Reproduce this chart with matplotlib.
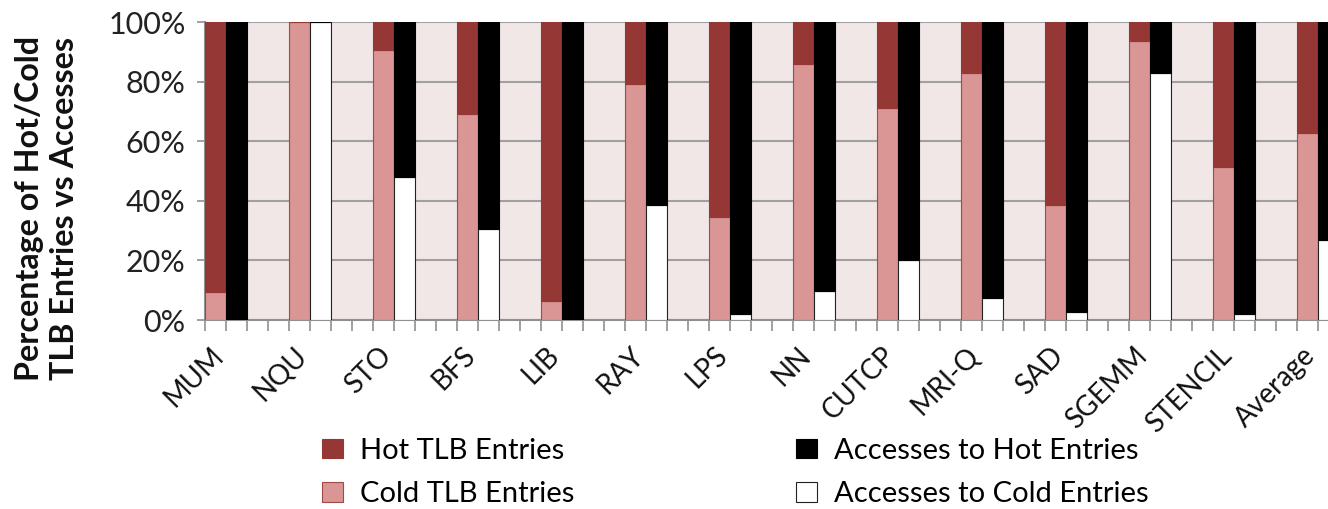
import numpy as np
import matplotlib
matplotlib.use("Agg")
import matplotlib.pyplot as plt
import matplotlib.transforms as mtransforms
from matplotlib.ticker import PercentFormatter

# data (percent)
benchmarks = ["MUM", "NQU", "STO", "BFS", "LIB", "RAY", "LPS", "NN",
              "CUTCP", "MRI-Q", "SAD", "SGEMM", "STENCIL", "Average"]
cold_entries = [9.3, 100, 90.7, 69.0, 6.4, 79.3, 34.4, 85.8, 71.0, 82.8, 38.5, 93.6, 51.2, 62.6]
cold_accesses = [0, 100, 48.0, 30.7, 0, 38.5, 2.0, 9.8, 20.1, 7.5, 2.6, 82.8, 2.0, 26.8]

hot_entries = [100 - v for v in cold_entries]
hot_accesses = [100 - v for v in cold_accesses]

plt.rcParams['font.family'] = ['Lato', 'DejaVu Sans']

fig = plt.figure(figsize=(13.28, 5.09), dpi=100)
ax = fig.add_axes([205 / 1328, 1 - 320 / 509, 1 - 205 / 1328, (320 - 22) / 509])
ax.set_facecolor("#F2E7E7")

n = len(benchmarks)
x1 = np.arange(n) * 4 + 0.5
x2 = x1 + 1

ax.bar(x1, cold_entries, width=1, color="#D99694", edgecolor="#A04A48", linewidth=0.8,
       label="Cold TLB Entries", zorder=3)
ax.bar(x1, hot_entries, width=1, bottom=cold_entries, color="#953735", edgecolor="#953735",
       linewidth=0.8, label="Hot TLB Entries", zorder=3)
ax.bar(x2, cold_accesses, width=1, color="white", edgecolor="#222222", linewidth=0.8,
       label="Accesses to Cold Entries", zorder=3)
ax.bar(x2, hot_accesses, width=1, bottom=cold_accesses, color="black", edgecolor="black",
       linewidth=0.8, label="Accesses to Hot Entries", zorder=3)

ax.set_xlim(0, 1123 / 21)
ax.set_ylim(0, 100)
ax.yaxis.set_major_locator(plt.MultipleLocator(20))
ax.yaxis.set_major_formatter(PercentFormatter(decimals=0))
ax.grid(axis="y", color="#A0A0A0", linewidth=1.5, zorder=0)

# slot tick marks along the bottom
ax.set_xticks(np.arange(0, 54))
ax.set_xticklabels([])
ax.tick_params(axis="x", which="major", length=8, width=1.2, color="#909090")
ax.tick_params(axis="y", length=6, width=1.2, color="#909090", labelsize=22,
               pad=8, labelcolor="#222222")

# category names sit between the two bars of each pair
trans = mtransforms.blended_transform_factory(ax.transData, ax.transAxes)
offset = mtransforms.ScaledTranslation(-16 / 100, -22 / 100, fig.dpi_scale_trans)
for xc, name in zip(x1 + 0.5, benchmarks):
    ax.text(xc, 0, name, transform=trans + offset, rotation=45, ha="right", va="top",
            rotation_mode="anchor", fontsize=20, color="#111111")

for side in ["top", "right"]:
    ax.spines[side].set_visible(False)
for side in ["left", "bottom"]:
    ax.spines[side].set_color("#909090")
    ax.spines[side].set_linewidth(1.5)

fig.text(47 / 1328, 1 - 208 / 509, "Percentage of Hot/Cold\nTLB Entries vs Accesses",
         rotation=90, ha="center", va="center", fontsize=23.2, fontweight="bold",
         linespacing=1.22, color="#111111")

h, l = ax.get_legend_handles_labels()
order = [1, 0, 3, 2]
fig.legend([h[i] for i in order], [l[i] for i in order], ncol=2, frameon=False,
           loc="center", bbox_to_anchor=(0.554, 0.072), fontsize=21,
           handlelength=0.7, handleheight=0.65, handletextpad=0.6,
           columnspacing=7.6, labelspacing=0.6)

fig.savefig("out.png", dpi=100)
